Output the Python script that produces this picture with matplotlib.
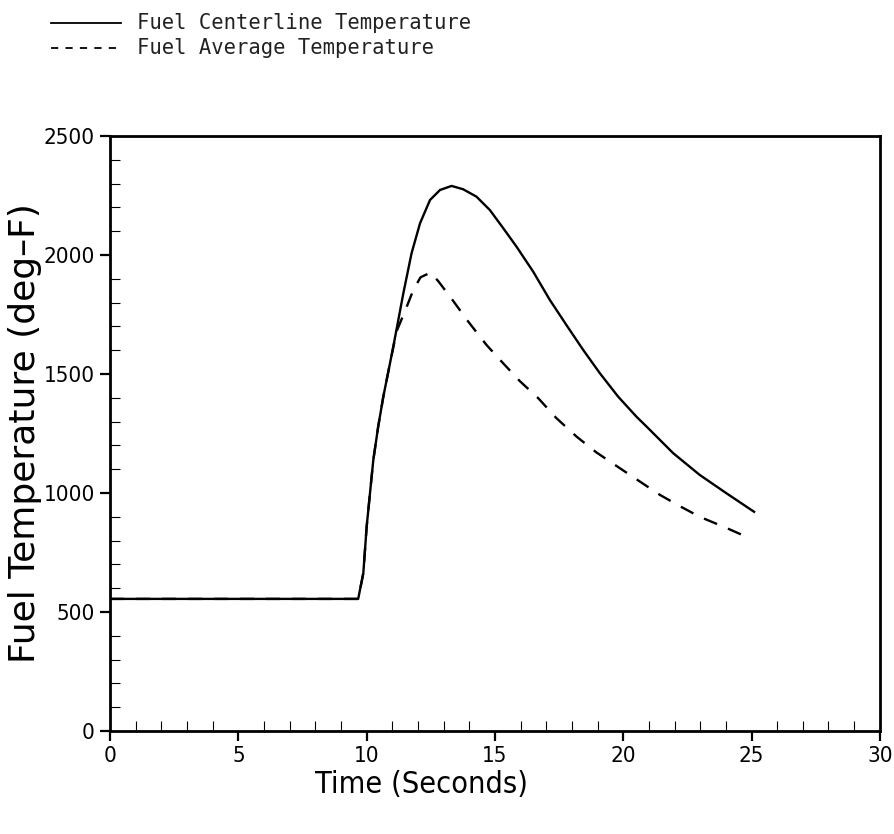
import numpy as np
import matplotlib.pyplot as plt
from matplotlib.ticker import MultipleLocator
from matplotlib.lines import Line2D

# ── data ──────────────────────────────────────────
t_center = [0.0, 9.67, 9.87, 10.0, 10.13, 10.26, 10.45, 10.65, 10.91, 11.10,
            11.43, 11.75, 12.08, 12.47, 12.86, 13.31, 13.76, 14.28, 14.80,
            15.32, 15.84, 16.49, 17.14, 17.79, 18.44, 19.09, 19.80, 20.52,
            20.91, 21.95, 22.98, 24.02, 25.10]
T_center = [555, 555, 663, 858, 999, 1139, 1279, 1405, 1545, 1650,
            1839, 2007, 2133, 2231, 2273, 2290, 2276, 2245, 2189,
            2113, 2035, 1930, 1811, 1705, 1601, 1503, 1405, 1320,
            1279, 1167, 1076, 999, 921]

t_avg = [0.0, 9.67, 9.87, 10.0, 10.13, 10.26, 10.45, 10.65, 10.91, 11.17,
         11.49, 11.82, 12.10, 12.49, 12.79, 13.25, 13.96, 14.67, 15.32,
         15.97, 16.69, 17.40, 18.18, 18.96, 19.87, 20.65, 21.43, 22.20,
         22.98, 23.96, 24.80]
T_avg = [555, 555, 663, 858, 999, 1139, 1279, 1405, 1545, 1680,
         1763, 1853, 1906, 1926, 1890, 1825, 1720, 1622, 1545,
         1470, 1398, 1314, 1237, 1170, 1104, 1048, 992, 945,
         900, 856, 816]

xticks = [0, 5, 10, 15, 20, 25, 30]
yticks = [0, 500, 1000, 1500, 2000, 2500]

legend_labels = ["Fuel Centerline Temperature", "Fuel Average Temperature"]

# ── figure ────────────────────────────────────────
fig = plt.figure(figsize=(8.95, 8.34), dpi=100)
ax = fig.add_axes([0.123, 0.1235, 0.86, 0.7135])

ax.plot(t_center, T_center, color="black", linewidth=1.7,
        solid_joinstyle="round")
ax.plot(t_avg, T_avg, color="black", linewidth=1.7, dashes=(6, 5))

ax.set_xlim(0, 30)
ax.set_ylim(0, 2500)
ax.set_xticks(xticks)
ax.set_yticks(yticks)
ax.xaxis.set_minor_locator(MultipleLocator(1))
ax.yaxis.set_minor_locator(MultipleLocator(100))

ax.tick_params(which="major", direction="out", length=7, width=1.6,
               labelsize=16, pad=4)
ax.tick_params(which="minor", direction="in", length=7, width=0.8)
ax.tick_params(top=False, right=False, which="both")

for lab in ax.get_xticklabels() + ax.get_yticklabels():
    lab.set_fontstretch("condensed")

for sp in ax.spines.values():
    sp.set_linewidth(2.0)

ax.set_xlabel("Time (Seconds)", fontsize=22, fontstretch="condensed")
ax.xaxis.set_label_coords(0.405, -0.066)
ax.set_ylabel("Fuel Temperature (deg\u2013F)", fontsize=26)
ax.yaxis.set_label_coords(-0.088, 0.5)

# legend above the axes, drawn by hand
styles = [dict(linestyle="-"), dict(dashes=(4, 4))]
for i, (lab, st) in enumerate(zip(legend_labels, styles)):
    y = 0.972 - i * 0.03
    fig.add_artist(Line2D([0.057, 0.135], [y, y], color="black",
                          linewidth=1.3, transform=fig.transFigure, **st))
    fig.text(0.153, y, lab, fontsize=14.8, family="DejaVu Sans Mono",
             color="#222222", va="center", ha="left")

fig.savefig("out.png", dpi=100)
